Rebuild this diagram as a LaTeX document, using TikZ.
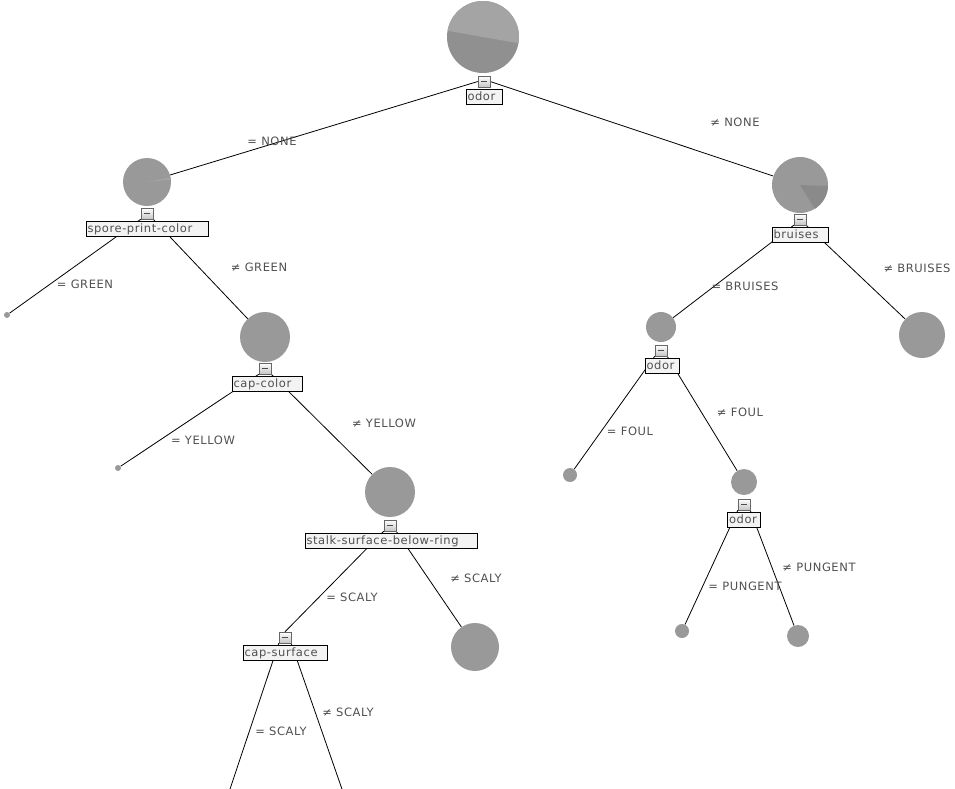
\documentclass[tikz,border=0pt]{standalone}
\usepackage{fontspec}
\newfontfamily\treefont{DejaVu Sans}[LetterSpace=5]
\usetikzlibrary{positioning,backgrounds}

\definecolor{piegray}{HTML}{999999}
\definecolor{pielight}{HTML}{A4A4A4}
\definecolor{piedark}{HTML}{8A8A8A}
\definecolor{boxgray}{HTML}{F3F3F3}
\definecolor{textgray}{HTML}{505050}

\tikzset{
  pie/.style={circle, fill=piegray, inner sep=0pt},
  tog/.style={draw=gray!80!black, top color=white, bottom color=gray!45,
    minimum width=12pt, minimum height=11pt, inner sep=0pt,
    path picture={\draw[black!70, line width=0.8pt] ([xshift=-3pt]path picture bounding box.center)
      -- ([xshift=3pt]path picture bounding box.center);}},
  nbox/.style={draw=black, line width=0.6pt, fill=boxgray, text=textgray,
    font=\treefont\fontsize{11.5}{12}\selectfont, inner xsep=1.5pt, inner ysep=1.5pt,
    text height=9pt, text depth=3pt, align=left},
  elabel/.style={text=textgray, font=\treefont\fontsize{11.5}{12}\selectfont, inner sep=0pt},
  branch/.style={black, line width=0.8pt}
}

\begin{document}
\begin{tikzpicture}[x=1pt, y=1pt]
\useasboundingbox (0,0) rectangle (955,-788);

% inner nodes: pie, label box, toggle
\node[pie, minimum size=72pt, fill=piedark!60!piegray] (odorPie) at (483,-37) {};
\fill[pielight] (odorPie.center) -- ++(-10:36pt) arc[start angle=-10, end angle=170, radius=36pt] -- cycle;
\node[nbox, text width=33pt] (odorBox) at (484,-97) {odor};
\node[tog, above=2pt of odorBox] (odorTog) {};

\node[pie, minimum size=48pt] (sporePie) at (147,-182) {};
\fill[pielight] (sporePie.center) -- ++(6:24pt) arc[start angle=6, end angle=11, radius=24pt] -- cycle;
\node[nbox, text width=119pt] (sporeBox) at (147,-229) {spore-print-color};
\node[tog, above=2pt of sporeBox] (sporeTog) {};

\node[pie, minimum size=50pt] (capcolPie) at (265,-337) {};
\node[nbox, text width=67pt] (capcolBox) at (267,-384) {cap-color};
\node[tog, above=2pt of capcolBox.north -| capcolPie] (capcolTog) {};

\node[pie, minimum size=50pt] (stalkPie) at (390,-492) {};
\node[nbox, text width=169pt] (stalkBox) at (391,-541) {stalk-surface-below-ring};
\node[tog, above=2pt of stalkBox.north -| stalkPie] (stalkTog) {};

\node[nbox, text width=81pt] (capsurfBox) at (285,-653) {cap-surface};
\node[tog, above=2pt of capsurfBox] (capsurfTog) {};

\node[pie, minimum size=56pt] (bruisesPie) at (800,-185) {};
\fill[piedark] (bruisesPie.center) -- ++(-58:28pt) arc[start angle=-58, end angle=-2, radius=28pt] -- cycle;
\node[nbox, text width=53pt] (bruisesBox) at (800,-235) {bruises};
\node[tog, above=2pt of bruisesBox] (bruisesTog) {};

\node[pie, minimum size=30pt] (odorTwoPie) at (661,-327) {};
\node[nbox, text width=31pt] (odorTwoBox) at (662,-366) {odor};
\node[tog, above=2pt of odorTwoBox.north -| odorTwoPie] (odorTwoTog) {};

\node[pie, minimum size=26pt] (odorThreePie) at (744,-482) {};
\node[nbox, text width=30pt] (odorThreeBox) at (744,-520) {odor};
\node[tog, above=2pt of odorThreeBox] (odorThreeTog) {};

% leaves
\node[pie, minimum size=6pt] (leafGreen) at (7,-315) {};
\node[pie, minimum size=6pt] (leafYellow) at (118,-468) {};
\node[pie, minimum size=48pt] (leafStalk) at (475,-647) {};
\coordinate (leafScaly) at (229,-792);
\coordinate (leafNotScaly) at (343,-792);
\node[pie, minimum size=46pt] (leafBruises) at (922,-335) {};
\node[pie, minimum size=14pt] (leafFoul) at (570,-475) {};
\node[pie, minimum size=14pt] (leafPungent) at (682,-631) {};
\node[pie, minimum size=22pt] (leafNotPungent) at (798,-636) {};

% branches
\begin{scope}[on background layer]
\draw[branch] (odorTog.west) -- (sporePie);
\draw[branch] (odorTog.east) -- (bruisesPie);
\draw[branch] (sporeTog.south west) -- (leafGreen);
\draw[branch] (sporeTog.south east) -- (capcolPie);
\draw[branch] (capcolTog.south west) -- (leafYellow);
\draw[branch] (capcolTog.south east) -- (stalkPie);
\draw[branch] (stalkTog.south west) -- (capsurfTog.north);
\draw[branch] (stalkTog.south east) -- (leafStalk);
\draw[branch] (capsurfTog.south west) -- (leafScaly);
\draw[branch] (capsurfTog.south east) -- (leafNotScaly);
\draw[branch] (bruisesTog.south west) -- (odorTwoPie);
\draw[branch] (bruisesTog.south east) -- (leafBruises);
\draw[branch] (odorTwoTog.south west) -- (leafFoul);
\draw[branch] (odorTwoTog.south east) -- (odorThreePie);
\draw[branch] (odorThreeTog.south west) -- (leafPungent);
\draw[branch] (odorThreeTog.south east) -- (leafNotPungent);
\end{scope}

% branch labels
\node[elabel] (lNone) at (272,-141) {= NONE};
\node[elabel] (lNotNone) at (735,-122) {≠ NONE};
\node[elabel] (lGreen) at (85,-284) {= GREEN};
\node[elabel] (lNotGreen) at (259,-267) {≠ GREEN};
\node[elabel] (lYellow) at (203,-440) {= YELLOW};
\node[elabel] (lNotYellow) at (384,-423) {≠ YELLOW};
\node[elabel] (lScaly) at (352,-597) {= SCALY};
\node[elabel] (lNotScaly) at (476,-578) {≠ SCALY};
\node[elabel] (lScalyTwo) at (281,-731) {= SCALY};
\node[elabel] (lNotScalyTwo) at (348,-712) {≠ SCALY};
\node[elabel] (lBruises) at (745,-286) {= BRUISES};
\node[elabel] (lNotBruises) at (917,-268) {≠ BRUISES};
\node[elabel] (lFoul) at (630,-431) {= FOUL};
\node[elabel] (lNotFoul) at (740,-412) {≠ FOUL};
\node[elabel] (lPungent) at (745,-586) {= PUNGENT};
\node[elabel] (lNotPungent) at (819,-567) {≠ PUNGENT};
\end{tikzpicture}
\end{document}
